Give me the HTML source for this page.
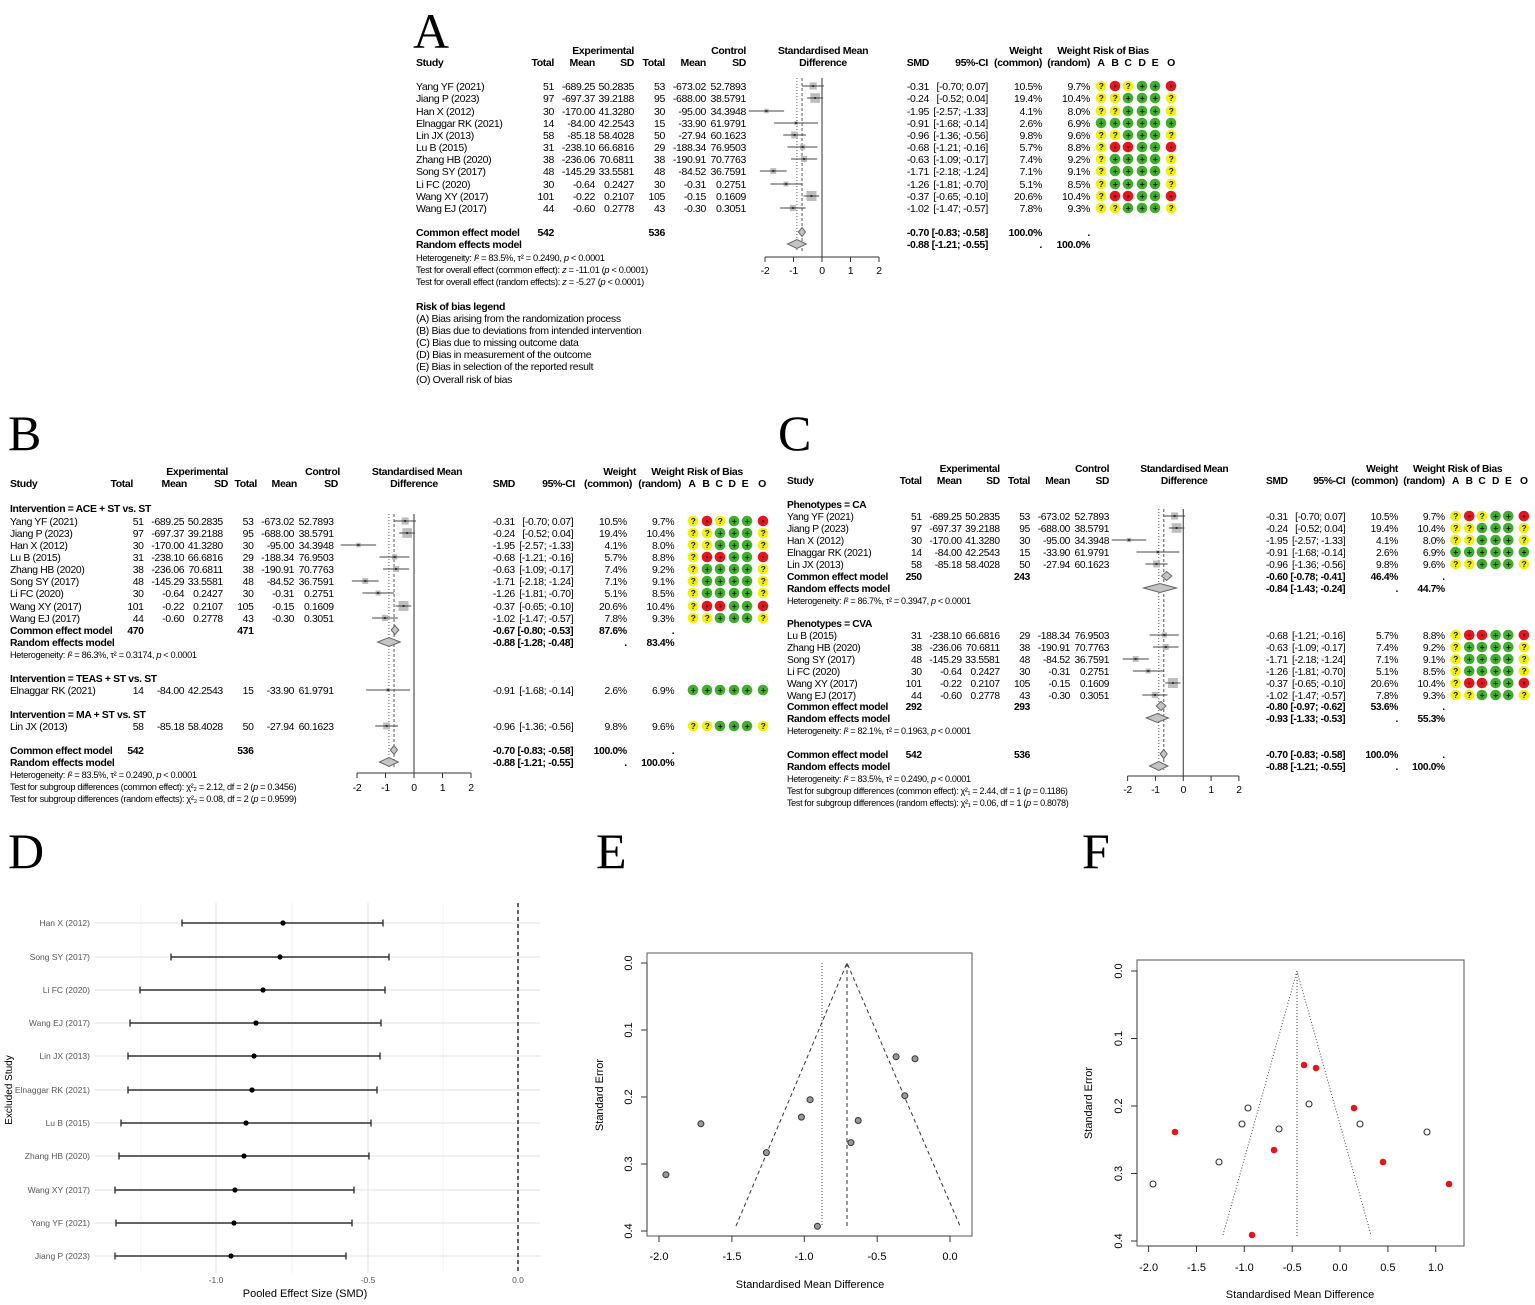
<!DOCTYPE html>
<html><head><meta charset="utf-8"><style>
body{margin:0;background:#fff}
svg{display:block;font-family:"Liberation Sans",Arial,sans-serif;font-size:10.5px;letter-spacing:-0.35px;white-space:pre;fill:#000}
.r{text-anchor:end}.c{text-anchor:middle}.b{font-weight:bold}.s{font-size:9.3px}
.L{font-family:"Liberation Serif",serif;font-size:50px;letter-spacing:0}
.g{fill:#555}
</style></head><body>
<svg id="svg" width="1535" height="1305" viewBox="0 0 1535 1305" xmlns="http://www.w3.org/2000/svg">
<rect width="1535" height="1305" fill="#fff"/>
<text class="L" x="413" y="48">A</text>
<text class="L" x="8" y="450">B</text>
<text class="L" x="778" y="450">C</text>
<text class="L" x="8" y="868">D</text>
<text class="L" x="596" y="868">E</text>
<text class="L" x="1082" y="868">F</text>

<!-- ===== Panel A ===== -->
<g transform="translate(416,0)">
<text class="b r" y="54"><tspan x="218">Experimental</tspan><tspan x="330">Control</tspan><tspan x="626">Weight</tspan><tspan x="674">Weight</tspan></text>
<text class="b c" x="407" y="54">Standardised Mean</text><text class="b" x="677" y="54">Risk of Bias</text>
<text class="b" x="0" y="66">Study</text>
<text class="b r" y="66"><tspan x="138">Total</tspan><tspan x="179">Mean</tspan><tspan x="218">SD</tspan><tspan x="249">Total</tspan><tspan x="290">Mean</tspan><tspan x="330">SD</tspan><tspan x="513">SMD</tspan><tspan x="572">95%-CI</tspan><tspan x="626">(common)</tspan><tspan x="674">(random)</tspan></text>
<text class="b c" x="407" y="66">Difference</text>
<text class="b c" y="66"><tspan x="685">A</tspan><tspan x="699">B</tspan><tspan x="712">C</tspan><tspan x="726">D</tspan><tspan x="739">E</tspan><tspan x="755">O</tspan></text>
<text x="0" y="90">Yang YF (2021)</text><text class="r" y="90"><tspan x="138">51</tspan><tspan x="179">-689.25</tspan><tspan x="218">50.2835</tspan><tspan x="249">53</tspan><tspan x="290">-673.02</tspan><tspan x="330">52.7893</tspan><tspan x="513">-0.31</tspan><tspan x="572">[-0.70;  0.07]</tspan><tspan x="626">10.5%</tspan><tspan x="674">9.7%</tspan></text>
<text x="0" y="102">Jiang P (2023)</text><text class="r" y="102"><tspan x="138">97</tspan><tspan x="179">-697.37</tspan><tspan x="218">39.2188</tspan><tspan x="249">95</tspan><tspan x="290">-688.00</tspan><tspan x="330">38.5791</tspan><tspan x="513">-0.24</tspan><tspan x="572">[-0.52;  0.04]</tspan><tspan x="626">19.4%</tspan><tspan x="674">10.4%</tspan></text>
<text x="0" y="115">Han X (2012)</text><text class="r" y="115"><tspan x="138">30</tspan><tspan x="179">-170.00</tspan><tspan x="218">41.3280</tspan><tspan x="249">30</tspan><tspan x="290">-95.00</tspan><tspan x="330">34.3948</tspan><tspan x="513">-1.95</tspan><tspan x="572">[-2.57; -1.33]</tspan><tspan x="626">4.1%</tspan><tspan x="674">8.0%</tspan></text>
<text x="0" y="127">Elnaggar RK (2021)</text><text class="r" y="127"><tspan x="138">14</tspan><tspan x="179">-84.00</tspan><tspan x="218">42.2543</tspan><tspan x="249">15</tspan><tspan x="290">-33.90</tspan><tspan x="330">61.9791</tspan><tspan x="513">-0.91</tspan><tspan x="572">[-1.68; -0.14]</tspan><tspan x="626">2.6%</tspan><tspan x="674">6.9%</tspan></text>
<text x="0" y="139">Lin JX (2013)</text><text class="r" y="139"><tspan x="138">58</tspan><tspan x="179">-85.18</tspan><tspan x="218">58.4028</tspan><tspan x="249">50</tspan><tspan x="290">-27.94</tspan><tspan x="330">60.1623</tspan><tspan x="513">-0.96</tspan><tspan x="572">[-1.36; -0.56]</tspan><tspan x="626">9.8%</tspan><tspan x="674">9.6%</tspan></text>
<text x="0" y="151">Lu B (2015)</text><text class="r" y="151"><tspan x="138">31</tspan><tspan x="179">-238.10</tspan><tspan x="218">66.6816</tspan><tspan x="249">29</tspan><tspan x="290">-188.34</tspan><tspan x="330">76.9503</tspan><tspan x="513">-0.68</tspan><tspan x="572">[-1.21; -0.16]</tspan><tspan x="626">5.7%</tspan><tspan x="674">8.8%</tspan></text>
<text x="0" y="163">Zhang HB (2020)</text><text class="r" y="163"><tspan x="138">38</tspan><tspan x="179">-236.06</tspan><tspan x="218">70.6811</tspan><tspan x="249">38</tspan><tspan x="290">-190.91</tspan><tspan x="330">70.7763</tspan><tspan x="513">-0.63</tspan><tspan x="572">[-1.09; -0.17]</tspan><tspan x="626">7.4%</tspan><tspan x="674">9.2%</tspan></text>
<text x="0" y="175">Song SY (2017)</text><text class="r" y="175"><tspan x="138">48</tspan><tspan x="179">-145.29</tspan><tspan x="218">33.5581</tspan><tspan x="249">48</tspan><tspan x="290">-84.52</tspan><tspan x="330">36.7591</tspan><tspan x="513">-1.71</tspan><tspan x="572">[-2.18; -1.24]</tspan><tspan x="626">7.1%</tspan><tspan x="674">9.1%</tspan></text>
<text x="0" y="188">Li FC (2020)</text><text class="r" y="188"><tspan x="138">30</tspan><tspan x="179">-0.64</tspan><tspan x="218">0.2427</tspan><tspan x="249">30</tspan><tspan x="290">-0.31</tspan><tspan x="330">0.2751</tspan><tspan x="513">-1.26</tspan><tspan x="572">[-1.81; -0.70]</tspan><tspan x="626">5.1%</tspan><tspan x="674">8.5%</tspan></text>
<text x="0" y="200">Wang XY (2017)</text><text class="r" y="200"><tspan x="138">101</tspan><tspan x="179">-0.22</tspan><tspan x="218">0.2107</tspan><tspan x="249">105</tspan><tspan x="290">-0.15</tspan><tspan x="330">0.1609</tspan><tspan x="513">-0.37</tspan><tspan x="572">[-0.65; -0.10]</tspan><tspan x="626">20.6%</tspan><tspan x="674">10.4%</tspan></text>
<text x="0" y="212">Wang EJ (2017)</text><text class="r" y="212"><tspan x="138">44</tspan><tspan x="179">-0.60</tspan><tspan x="218">0.2778</tspan><tspan x="249">43</tspan><tspan x="290">-0.30</tspan><tspan x="330">0.3051</tspan><tspan x="513">-1.02</tspan><tspan x="572">[-1.47; -0.57]</tspan><tspan x="626">7.8%</tspan><tspan x="674">9.3%</tspan></text>
<text class="b" x="0" y="236">Common effect model</text><text class="b r" y="236"><tspan x="138">542</tspan><tspan x="249">536</tspan><tspan x="513">-0.70</tspan><tspan x="572">[-0.83; -0.58]</tspan><tspan x="626">100.0%</tspan><tspan x="674">.</tspan></text>
<text class="b" x="0" y="248">Random effects model</text><text class="b r" y="248"><tspan x="513">-0.88</tspan><tspan x="572">[-1.21; -0.55]</tspan><tspan x="626">.</tspan><tspan x="674">100.0%</tspan></text>
<text class="s" x="0" y="261">Heterogeneity: <tspan font-style="italic">I</tspan>² = 83.5%, τ² = 0.2490, <tspan font-style="italic">p</tspan> &lt; 0.0001</text>
<text class="s" x="0" y="273">Test for overall effect (common effect): <tspan font-style="italic">z</tspan> = -11.01 (<tspan font-style="italic">p</tspan> &lt; 0.0001)</text>
<text class="s" x="0" y="285">Test for overall effect (random effects): <tspan font-style="italic">z</tspan> = -5.27 (<tspan font-style="italic">p</tspan> &lt; 0.0001)</text>
<text class="c" y="274"><tspan x="349">-2</tspan><tspan x="377.5">-1</tspan><tspan x="406">0</tspan><tspan x="434.5">1</tspan><tspan x="463">2</tspan></text>
<text class="b" x="0" y="310">Risk of bias legend</text>
<text x="0" y="322">(A) Bias arising from the randomization process</text>
<text x="0" y="334">(B) Bias due to deviations from intended intervention</text>
<text x="0" y="346">(C) Bias due to missing outcome data</text>
<text x="0" y="358">(D) Bias in measurement of the outcome</text>
<text x="0" y="370">(E) Bias in selection of the reported result</text>
<text x="0" y="383">(O) Overall risk of bias</text>
</g>

<!-- ===== Panel B ===== -->
<g transform="translate(10,0)">
<text class="b r" y="475"><tspan x="218">Experimental</tspan><tspan x="330">Control</tspan><tspan x="626">Weight</tspan><tspan x="674">Weight</tspan></text>
<text class="b c" x="407" y="475">Standardised Mean</text><text class="b" x="677" y="475">Risk of Bias</text>
<text class="b" x="0" y="487">Study</text>
<text class="b r" y="487"><tspan x="123">Total</tspan><tspan x="177">Mean</tspan><tspan x="218">SD</tspan><tspan x="247">Total</tspan><tspan x="287">Mean</tspan><tspan x="328">SD</tspan><tspan x="505">SMD</tspan><tspan x="565">95%-CI</tspan><tspan x="622">(common)</tspan><tspan x="671">(random)</tspan></text>
<text class="b c" x="404" y="487">Difference</text>
<text class="b c" y="487"><tspan x="682">A</tspan><tspan x="696">B</tspan><tspan x="709">C</tspan><tspan x="722">D</tspan><tspan x="735">E</tspan><tspan x="752">O</tspan></text>
<g transform="translate(-3,0) scale(0.99,1)">
<text class="b" x="3" y="512">Intervention = ACE + ST vs. ST</text>
<text x="3" y="525">Yang YF (2021)</text><text class="r" y="525"><tspan x="138">51</tspan><tspan x="179">-689.25</tspan><tspan x="218">50.2835</tspan><tspan x="249">53</tspan><tspan x="290">-673.02</tspan><tspan x="330">52.7893</tspan><tspan x="513">-0.31</tspan><tspan x="572">[-0.70;  0.07]</tspan><tspan x="626">10.5%</tspan><tspan x="674">9.7%</tspan></text>
<text x="3" y="537">Jiang P (2023)</text><text class="r" y="537"><tspan x="138">97</tspan><tspan x="179">-697.37</tspan><tspan x="218">39.2188</tspan><tspan x="249">95</tspan><tspan x="290">-688.00</tspan><tspan x="330">38.5791</tspan><tspan x="513">-0.24</tspan><tspan x="572">[-0.52;  0.04]</tspan><tspan x="626">19.4%</tspan><tspan x="674">10.4%</tspan></text>
<text x="3" y="549">Han X (2012)</text><text class="r" y="549"><tspan x="138">30</tspan><tspan x="179">-170.00</tspan><tspan x="218">41.3280</tspan><tspan x="249">30</tspan><tspan x="290">-95.00</tspan><tspan x="330">34.3948</tspan><tspan x="513">-1.95</tspan><tspan x="572">[-2.57; -1.33]</tspan><tspan x="626">4.1%</tspan><tspan x="674">8.0%</tspan></text>
<text x="3" y="561">Lu B (2015)</text><text class="r" y="561"><tspan x="138">31</tspan><tspan x="179">-238.10</tspan><tspan x="218">66.6816</tspan><tspan x="249">29</tspan><tspan x="290">-188.34</tspan><tspan x="330">76.9503</tspan><tspan x="513">-0.68</tspan><tspan x="572">[-1.21; -0.16]</tspan><tspan x="626">5.7%</tspan><tspan x="674">8.8%</tspan></text>
<text x="3" y="573">Zhang HB (2020)</text><text class="r" y="573"><tspan x="138">38</tspan><tspan x="179">-236.06</tspan><tspan x="218">70.6811</tspan><tspan x="249">38</tspan><tspan x="290">-190.91</tspan><tspan x="330">70.7763</tspan><tspan x="513">-0.63</tspan><tspan x="572">[-1.09; -0.17]</tspan><tspan x="626">7.4%</tspan><tspan x="674">9.2%</tspan></text>
<text x="3" y="585">Song SY (2017)</text><text class="r" y="585"><tspan x="138">48</tspan><tspan x="179">-145.29</tspan><tspan x="218">33.5581</tspan><tspan x="249">48</tspan><tspan x="290">-84.52</tspan><tspan x="330">36.7591</tspan><tspan x="513">-1.71</tspan><tspan x="572">[-2.18; -1.24]</tspan><tspan x="626">7.1%</tspan><tspan x="674">9.1%</tspan></text>
<text x="3" y="597">Li FC (2020)</text><text class="r" y="597"><tspan x="138">30</tspan><tspan x="179">-0.64</tspan><tspan x="218">0.2427</tspan><tspan x="249">30</tspan><tspan x="290">-0.31</tspan><tspan x="330">0.2751</tspan><tspan x="513">-1.26</tspan><tspan x="572">[-1.81; -0.70]</tspan><tspan x="626">5.1%</tspan><tspan x="674">8.5%</tspan></text>
<text x="3" y="610">Wang XY (2017)</text><text class="r" y="610"><tspan x="138">101</tspan><tspan x="179">-0.22</tspan><tspan x="218">0.2107</tspan><tspan x="249">105</tspan><tspan x="290">-0.15</tspan><tspan x="330">0.1609</tspan><tspan x="513">-0.37</tspan><tspan x="572">[-0.65; -0.10]</tspan><tspan x="626">20.6%</tspan><tspan x="674">10.4%</tspan></text>
<text x="3" y="622">Wang EJ (2017)</text><text class="r" y="622"><tspan x="138">44</tspan><tspan x="179">-0.60</tspan><tspan x="218">0.2778</tspan><tspan x="249">43</tspan><tspan x="290">-0.30</tspan><tspan x="330">0.3051</tspan><tspan x="513">-1.02</tspan><tspan x="572">[-1.47; -0.57]</tspan><tspan x="626">7.8%</tspan><tspan x="674">9.3%</tspan></text>
<text class="b" x="3" y="634">Common effect model</text><text class="b r" y="634"><tspan x="138">470</tspan><tspan x="249">471</tspan><tspan x="513">-0.67</tspan><tspan x="572">[-0.80; -0.53]</tspan><tspan x="626">87.6%</tspan><tspan x="674">.</tspan></text>
<text class="b" x="3" y="646">Random effects model</text><text class="b r" y="646"><tspan x="513">-0.88</tspan><tspan x="572">[-1.28; -0.48]</tspan><tspan x="626">.</tspan><tspan x="674">83.4%</tspan></text>
<text class="s" x="3" y="658">Heterogeneity: <tspan font-style="italic">I</tspan>² = 86.3%, τ² = 0.3174, <tspan font-style="italic">p</tspan> &lt; 0.0001</text>
<text class="b" x="3" y="682">Intervention = TEAS + ST vs. ST</text>
<text x="3" y="694">Elnaggar RK (2021)</text><text class="r" y="694"><tspan x="138">14</tspan><tspan x="179">-84.00</tspan><tspan x="218">42.2543</tspan><tspan x="249">15</tspan><tspan x="290">-33.90</tspan><tspan x="330">61.9791</tspan><tspan x="513">-0.91</tspan><tspan x="572">[-1.68; -0.14]</tspan><tspan x="626">2.6%</tspan><tspan x="674">6.9%</tspan></text>
<text class="b" x="3" y="718">Intervention = MA + ST vs. ST</text>
<text x="3" y="730">Lin JX (2013)</text><text class="r" y="730"><tspan x="138">58</tspan><tspan x="179">-85.18</tspan><tspan x="218">58.4028</tspan><tspan x="249">50</tspan><tspan x="290">-27.94</tspan><tspan x="330">60.1623</tspan><tspan x="513">-0.96</tspan><tspan x="572">[-1.36; -0.56]</tspan><tspan x="626">9.8%</tspan><tspan x="674">9.6%</tspan></text>
<text class="b" x="3" y="754">Common effect model</text><text class="b r" y="754"><tspan x="138">542</tspan><tspan x="249">536</tspan><tspan x="513">-0.70</tspan><tspan x="572">[-0.83; -0.58]</tspan><tspan x="626">100.0%</tspan><tspan x="674">.</tspan></text>
<text class="b" x="3" y="766">Random effects model</text><text class="b r" y="766"><tspan x="513">-0.88</tspan><tspan x="572">[-1.21; -0.55]</tspan><tspan x="626">.</tspan><tspan x="674">100.0%</tspan></text>
<text class="s" x="3" y="778">Heterogeneity: <tspan font-style="italic">I</tspan>² = 83.5%, τ² = 0.2490, <tspan font-style="italic">p</tspan> &lt; 0.0001</text>
<text class="s" x="3" y="790">Test for subgroup differences (common effect): χ²₂ = 2.12, df = 2 (<tspan font-style="italic">p</tspan> = 0.3456)</text>
<text class="s" x="3" y="802">Test for subgroup differences (random effects): χ²₂ = 0.08, df = 2 (<tspan font-style="italic">p</tspan> = 0.9599)</text>
</g>
<text class="c" y="791"><tspan x="347">-2</tspan><tspan x="375.5">-1</tspan><tspan x="404">0</tspan><tspan x="432.5">1</tspan><tspan x="461">2</tspan></text>
</g>

<!-- ===== Panel C ===== -->
<g transform="translate(787,0) scale(0.976,1)">
<text class="b r" y="472"><tspan x="218">Experimental</tspan><tspan x="330">Control</tspan><tspan x="626">Weight</tspan><tspan x="674">Weight</tspan></text>
<text class="b c" x="407" y="472">Standardised Mean</text><text class="b" x="677" y="472">Risk of Bias</text>
<text class="b" x="0" y="484">Study</text>
<text class="b r" y="484"><tspan x="138">Total</tspan><tspan x="179">Mean</tspan><tspan x="218">SD</tspan><tspan x="249">Total</tspan><tspan x="290">Mean</tspan><tspan x="330">SD</tspan><tspan x="513">SMD</tspan><tspan x="572">95%-CI</tspan><tspan x="626">(common)</tspan><tspan x="674">(random)</tspan></text>
<text class="b c" x="407" y="484">Difference</text>
<text class="b c" y="484"><tspan x="685">A</tspan><tspan x="699">B</tspan><tspan x="712">C</tspan><tspan x="726">D</tspan><tspan x="739">E</tspan><tspan x="755">O</tspan></text>
<text class="b" x="0" y="508">Phenotypes = CA</text>
<text x="0" y="520">Yang YF (2021)</text><text class="r" y="520"><tspan x="138">51</tspan><tspan x="179">-689.25</tspan><tspan x="218">50.2835</tspan><tspan x="249">53</tspan><tspan x="290">-673.02</tspan><tspan x="330">52.7893</tspan><tspan x="513">-0.31</tspan><tspan x="572">[-0.70;  0.07]</tspan><tspan x="626">10.5%</tspan><tspan x="674">9.7%</tspan></text>
<text x="0" y="532">Jiang P (2023)</text><text class="r" y="532"><tspan x="138">97</tspan><tspan x="179">-697.37</tspan><tspan x="218">39.2188</tspan><tspan x="249">95</tspan><tspan x="290">-688.00</tspan><tspan x="330">38.5791</tspan><tspan x="513">-0.24</tspan><tspan x="572">[-0.52;  0.04]</tspan><tspan x="626">19.4%</tspan><tspan x="674">10.4%</tspan></text>
<text x="0" y="544">Han X (2012)</text><text class="r" y="544"><tspan x="138">30</tspan><tspan x="179">-170.00</tspan><tspan x="218">41.3280</tspan><tspan x="249">30</tspan><tspan x="290">-95.00</tspan><tspan x="330">34.3948</tspan><tspan x="513">-1.95</tspan><tspan x="572">[-2.57; -1.33]</tspan><tspan x="626">4.1%</tspan><tspan x="674">8.0%</tspan></text>
<text x="0" y="556">Elnaggar RK (2021)</text><text class="r" y="556"><tspan x="138">14</tspan><tspan x="179">-84.00</tspan><tspan x="218">42.2543</tspan><tspan x="249">15</tspan><tspan x="290">-33.90</tspan><tspan x="330">61.9791</tspan><tspan x="513">-0.91</tspan><tspan x="572">[-1.68; -0.14]</tspan><tspan x="626">2.6%</tspan><tspan x="674">6.9%</tspan></text>
<text x="0" y="568">Lin JX (2013)</text><text class="r" y="568"><tspan x="138">58</tspan><tspan x="179">-85.18</tspan><tspan x="218">58.4028</tspan><tspan x="249">50</tspan><tspan x="290">-27.94</tspan><tspan x="330">60.1623</tspan><tspan x="513">-0.96</tspan><tspan x="572">[-1.36; -0.56]</tspan><tspan x="626">9.8%</tspan><tspan x="674">9.6%</tspan></text>
<text class="b" x="0" y="580">Common effect model</text><text class="b r" y="580"><tspan x="138">250</tspan><tspan x="249">243</tspan><tspan x="513">-0.60</tspan><tspan x="572">[-0.78; -0.41]</tspan><tspan x="626">46.4%</tspan><tspan x="674">.</tspan></text>
<text class="b" x="0" y="592">Random effects model</text><text class="b r" y="592"><tspan x="513">-0.84</tspan><tspan x="572">[-1.43; -0.24]</tspan><tspan x="626">.</tspan><tspan x="674">44.7%</tspan></text>
<text class="s" x="0" y="604">Heterogeneity: <tspan font-style="italic">I</tspan>² = 86.7%, τ² = 0.3947, <tspan font-style="italic">p</tspan> &lt; 0.0001</text>
<text class="b" x="0" y="627">Phenotypes = CVA</text>
<text x="0" y="639">Lu B (2015)</text><text class="r" y="639"><tspan x="138">31</tspan><tspan x="179">-238.10</tspan><tspan x="218">66.6816</tspan><tspan x="249">29</tspan><tspan x="290">-188.34</tspan><tspan x="330">76.9503</tspan><tspan x="513">-0.68</tspan><tspan x="572">[-1.21; -0.16]</tspan><tspan x="626">5.7%</tspan><tspan x="674">8.8%</tspan></text>
<text x="0" y="651">Zhang HB (2020)</text><text class="r" y="651"><tspan x="138">38</tspan><tspan x="179">-236.06</tspan><tspan x="218">70.6811</tspan><tspan x="249">38</tspan><tspan x="290">-190.91</tspan><tspan x="330">70.7763</tspan><tspan x="513">-0.63</tspan><tspan x="572">[-1.09; -0.17]</tspan><tspan x="626">7.4%</tspan><tspan x="674">9.2%</tspan></text>
<text x="0" y="663">Song SY (2017)</text><text class="r" y="663"><tspan x="138">48</tspan><tspan x="179">-145.29</tspan><tspan x="218">33.5581</tspan><tspan x="249">48</tspan><tspan x="290">-84.52</tspan><tspan x="330">36.7591</tspan><tspan x="513">-1.71</tspan><tspan x="572">[-2.18; -1.24]</tspan><tspan x="626">7.1%</tspan><tspan x="674">9.1%</tspan></text>
<text x="0" y="675">Li FC (2020)</text><text class="r" y="675"><tspan x="138">30</tspan><tspan x="179">-0.64</tspan><tspan x="218">0.2427</tspan><tspan x="249">30</tspan><tspan x="290">-0.31</tspan><tspan x="330">0.2751</tspan><tspan x="513">-1.26</tspan><tspan x="572">[-1.81; -0.70]</tspan><tspan x="626">5.1%</tspan><tspan x="674">8.5%</tspan></text>
<text x="0" y="687">Wang XY (2017)</text><text class="r" y="687"><tspan x="138">101</tspan><tspan x="179">-0.22</tspan><tspan x="218">0.2107</tspan><tspan x="249">105</tspan><tspan x="290">-0.15</tspan><tspan x="330">0.1609</tspan><tspan x="513">-0.37</tspan><tspan x="572">[-0.65; -0.10]</tspan><tspan x="626">20.6%</tspan><tspan x="674">10.4%</tspan></text>
<text x="0" y="699">Wang EJ (2017)</text><text class="r" y="699"><tspan x="138">44</tspan><tspan x="179">-0.60</tspan><tspan x="218">0.2778</tspan><tspan x="249">43</tspan><tspan x="290">-0.30</tspan><tspan x="330">0.3051</tspan><tspan x="513">-1.02</tspan><tspan x="572">[-1.47; -0.57]</tspan><tspan x="626">7.8%</tspan><tspan x="674">9.3%</tspan></text>
<text class="b" x="0" y="710">Common effect model</text><text class="b r" y="710"><tspan x="138">292</tspan><tspan x="249">293</tspan><tspan x="513">-0.80</tspan><tspan x="572">[-0.97; -0.62]</tspan><tspan x="626">53.6%</tspan><tspan x="674">.</tspan></text>
<text class="b" x="0" y="722">Random effects model</text><text class="b r" y="722"><tspan x="513">-0.93</tspan><tspan x="572">[-1.33; -0.53]</tspan><tspan x="626">.</tspan><tspan x="674">55.3%</tspan></text>
<text class="s" x="0" y="734">Heterogeneity: <tspan font-style="italic">I</tspan>² = 82.1%, τ² = 0.1963, <tspan font-style="italic">p</tspan> &lt; 0.0001</text>
<text class="b" x="0" y="758">Common effect model</text><text class="b r" y="758"><tspan x="138">542</tspan><tspan x="249">536</tspan><tspan x="513">-0.70</tspan><tspan x="572">[-0.83; -0.58]</tspan><tspan x="626">100.0%</tspan><tspan x="674">.</tspan></text>
<text class="b" x="0" y="770">Random effects model</text><text class="b r" y="770"><tspan x="513">-0.88</tspan><tspan x="572">[-1.21; -0.55]</tspan><tspan x="626">.</tspan><tspan x="674">100.0%</tspan></text>
<text class="s" x="0" y="782">Heterogeneity: <tspan font-style="italic">I</tspan>² = 83.5%, τ² = 0.2490, <tspan font-style="italic">p</tspan> &lt; 0.0001</text>
<text class="s" x="0" y="794">Test for subgroup differences (common effect): χ²₁ = 2.44, df = 1 (<tspan font-style="italic">p</tspan> = 0.1186)</text>
<text class="s" x="0" y="806">Test for subgroup differences (random effects): χ²₁ = 0.06, df = 1 (<tspan font-style="italic">p</tspan> = 0.8078)</text>
<text class="c" y="793"><tspan x="349">-2</tspan><tspan x="377.5">-1</tspan><tspan x="406">0</tspan><tspan x="434.5">1</tspan><tspan x="463">2</tspan></text>
</g>

<!-- ===== Panel D ===== -->
<g id="D">
<g stroke="#f2f2f2" stroke-width="1">
<line x1="141" y1="903" x2="141" y2="1273"/><line x1="292" y1="903" x2="292" y2="1273"/><line x1="443" y1="903" x2="443" y2="1273"/>
</g>
<g stroke="#e6e6e6" stroke-width="1.2">
<line x1="216" y1="903" x2="216" y2="1273"/><line x1="368" y1="903" x2="368" y2="1273"/><line x1="518" y1="903" x2="518" y2="1273"/>
<line x1="95" y1="923" x2="540" y2="923"/><line x1="95" y1="957" x2="540" y2="957"/><line x1="95" y1="990" x2="540" y2="990"/><line x1="95" y1="1023" x2="540" y2="1023"/><line x1="95" y1="1056" x2="540" y2="1056"/><line x1="95" y1="1090" x2="540" y2="1090"/><line x1="95" y1="1123" x2="540" y2="1123"/><line x1="95" y1="1156" x2="540" y2="1156"/><line x1="95" y1="1190" x2="540" y2="1190"/><line x1="95" y1="1223" x2="540" y2="1223"/><line x1="95" y1="1256" x2="540" y2="1256"/>
</g>
<line x1="518" y1="903" x2="518" y2="1273" stroke="#111" stroke-width="1.3" stroke-dasharray="4,3"/>
<g font-size="8.5" class="r" fill="#555" style="letter-spacing:0">
<text x="90" y="926">Han X (2012)</text><text x="90" y="960">Song SY (2017)</text><text x="90" y="993">Li FC (2020)</text><text x="90" y="1026">Wang EJ (2017)</text><text x="90" y="1059">Lin JX (2013)</text><text x="90" y="1093">Elnaggar RK (2021)</text><text x="90" y="1126">Lu B (2015)</text><text x="90" y="1159">Zhang HB (2020)</text><text x="90" y="1193">Wang XY (2017)</text><text x="90" y="1226">Yang YF (2021)</text><text x="90" y="1259">Jiang P (2023)</text>
</g>
<g font-size="8.5" class="c" fill="#555" style="letter-spacing:0"><text x="216" y="1283">-1.0</text><text x="368" y="1283">-0.5</text><text x="518" y="1283">0.0</text></g>
<text x="305" y="1297" class="c" font-size="11" style="letter-spacing:0">Pooled Effect Size (SMD)</text>
<text transform="translate(12,1090) rotate(-90)" class="c" font-size="10" style="letter-spacing:0">Excluded Study</text>
</g>

<!-- ===== Panel E ===== -->
<g font-size="11" style="letter-spacing:0">
<rect x="647" y="953" width="325" height="283" fill="none" stroke="#555"/>
<g stroke="#333"><line x1="659" y1="1236" x2="950" y2="1236"/><line x1="659" y1="1236" x2="659" y2="1242"/><line x1="731.9" y1="1236" x2="731.9" y2="1242"/><line x1="804.3" y1="1236" x2="804.3" y2="1242"/><line x1="877.2" y1="1236" x2="877.2" y2="1242"/><line x1="950" y1="1236" x2="950" y2="1242"/>
<line x1="647" y1="963" x2="647" y2="1231"/><line x1="641" y1="963" x2="647" y2="963"/><line x1="641" y1="1030" x2="647" y2="1030"/><line x1="641" y1="1097" x2="647" y2="1097"/><line x1="641" y1="1164" x2="647" y2="1164"/><line x1="641" y1="1231" x2="647" y2="1231"/></g>
<g class="c"><text x="659" y="1260">-2.0</text><text x="732" y="1260">-1.5</text><text x="804" y="1260">-1.0</text><text x="877" y="1260">-0.5</text><text x="950" y="1260">0.0</text></g>
<g class="c"><text transform="translate(632,963) rotate(-90)">0.0</text><text transform="translate(632,1030) rotate(-90)">0.1</text><text transform="translate(632,1097) rotate(-90)">0.2</text><text transform="translate(632,1164) rotate(-90)">0.3</text><text transform="translate(632,1231) rotate(-90)">0.4</text></g>
<text class="c" x="810" y="1288">Standardised Mean Difference</text>
<text class="c" transform="translate(603,1095) rotate(-90)">Standard Error</text>
<polyline points="736,1226 847,963 960,1226" fill="none" stroke="#333" stroke-dasharray="4,3"/>
<line x1="822" y1="963" x2="822" y2="1226" stroke="#444" stroke-dasharray="1,2"/>
<line x1="847" y1="963" x2="847" y2="1226" stroke="#333" stroke-dasharray="4,3"/>
<g fill="#999" stroke="#333">
<circle cx="904.8" cy="1095.7" r="3"/><circle cx="915" cy="1058.8" r="3"/><circle cx="665.9" cy="1174.7" r="3"/><circle cx="817.4" cy="1226.3" r="3"/><circle cx="810.1" cy="1099.7" r="3"/><circle cx="850.9" cy="1142.6" r="3"/><circle cx="858.2" cy="1120.5" r="3"/><circle cx="700.9" cy="1123.8" r="3"/><circle cx="766.4" cy="1152.6" r="3"/><circle cx="896.1" cy="1056.8" r="3"/><circle cx="801.4" cy="1117.1" r="3"/>
</g>
</g>

<!-- ===== Panel F ===== -->
<g font-size="11" style="letter-spacing:0">
<rect x="1137" y="960" width="327" height="286" fill="none" stroke="#555"/>
<g stroke="#333"><line x1="1148.6" y1="1246" x2="1435.7" y2="1246"/><line x1="1148.6" y1="1246" x2="1148.6" y2="1252"/><line x1="1196.5" y1="1246" x2="1196.5" y2="1252"/><line x1="1244.3" y1="1246" x2="1244.3" y2="1252"/><line x1="1292.2" y1="1246" x2="1292.2" y2="1252"/><line x1="1340" y1="1246" x2="1340" y2="1252"/><line x1="1387.9" y1="1246" x2="1387.9" y2="1252"/><line x1="1435.7" y1="1246" x2="1435.7" y2="1252"/>
<line x1="1137" y1="971" x2="1137" y2="1241"/><line x1="1131" y1="971" x2="1137" y2="971"/><line x1="1131" y1="1038.5" x2="1137" y2="1038.5"/><line x1="1131" y1="1106" x2="1137" y2="1106"/><line x1="1131" y1="1173.5" x2="1137" y2="1173.5"/><line x1="1131" y1="1241" x2="1137" y2="1241"/></g>
<g class="c"><text x="1148.6" y="1271">-2.0</text><text x="1196.5" y="1271">-1.5</text><text x="1244.3" y="1271">-1.0</text><text x="1292.2" y="1271">-0.5</text><text x="1340" y="1271">0.0</text><text x="1387.9" y="1271">0.5</text><text x="1435.7" y="1271">1.0</text></g>
<g class="c"><text transform="translate(1122,971) rotate(-90)">0.0</text><text transform="translate(1122,1038.5) rotate(-90)">0.1</text><text transform="translate(1122,1106) rotate(-90)">0.2</text><text transform="translate(1122,1173.5) rotate(-90)">0.3</text><text transform="translate(1122,1241) rotate(-90)">0.4</text></g>
<text class="c" x="1300" y="1298">Standardised Mean Difference</text>
<text class="c" transform="translate(1092,1103) rotate(-90)">Standard Error</text>
<polyline points="1223,1235 1297,971 1371,1235" fill="none" stroke="#444" stroke-dasharray="1,2"/>
<line x1="1297" y1="971" x2="1297" y2="1237" stroke="#444" stroke-dasharray="1,2"/>
<g fill="#fff" stroke="#333" stroke-width="1.1">
<circle cx="1153" cy="1184" r="3"/><circle cx="1219" cy="1162" r="3"/><circle cx="1242" cy="1124" r="3"/><circle cx="1248" cy="1108" r="3"/><circle cx="1279" cy="1129" r="3"/><circle cx="1309" cy="1104" r="3"/><circle cx="1360" cy="1124" r="3"/><circle cx="1427" cy="1132" r="3"/>
</g>
<g fill="#e8141c">
<circle cx="1175" cy="1132" r="3.3"/><circle cx="1252" cy="1235" r="3.3"/><circle cx="1274" cy="1150" r="3.3"/><circle cx="1304" cy="1065" r="3.3"/><circle cx="1316" cy="1068" r="3.3"/><circle cx="1354" cy="1108" r="3.3"/><circle cx="1383" cy="1162" r="3.3"/><circle cx="1449" cy="1184" r="3.3"/>
</g>
</g>
</svg>
<script>
(function(){
var svg=document.getElementById('svg'),NS='http://www.w3.org/2000/svg';
function el(t,a){var e=document.createElementNS(NS,t);for(var k in a)e.setAttribute(k,a[k]);svg.appendChild(e);return e;}
var S={
Yang:[-0.31,-0.70,0.07,10.5,'?-?++-'],Jiang:[-0.24,-0.52,0.04,19.4,'??+++?'],Han:[-1.95,-2.57,-1.33,4.1,'??+++?'],
Eln:[-0.91,-1.68,-0.14,2.6,'++++++'],Lin:[-0.96,-1.36,-0.56,9.8,'??+++?'],Lu:[-0.68,-1.21,-0.16,5.7,'?--++-'],
Zhang:[-0.63,-1.09,-0.17,7.4,'?++++?'],Song:[-1.71,-2.18,-1.24,7.1,'?++++?'],Li:[-1.26,-1.81,-0.70,5.1,'?++++?'],
WXY:[-0.37,-0.65,-0.10,20.6,'?--++-'],WEJ:[-1.02,-1.47,-0.57,7.8,'??+++?']};
function forest(x0,sx,top,axY,rows,diams){
 var X=function(v){return x0+sx*(406+28.5*v);};
 el('line',{x1:X(0),x2:X(0),y1:top,y2:axY,stroke:'#333','stroke-width':1});
 el('line',{x1:X(-0.88),x2:X(-0.88),y1:top,y2:axY-6,stroke:'#555','stroke-dasharray':'1,2'});
 el('line',{x1:X(-0.70),x2:X(-0.70),y1:top,y2:axY-6,stroke:'#555','stroke-dasharray':'3,2'});
 el('line',{x1:X(-2),x2:X(2),y1:axY,y2:axY,stroke:'#333'});
 for(var t=-2;t<=2;t++)el('line',{x1:X(t),x2:X(t),y1:axY,y2:axY+5,stroke:'#333'});
 var rp=[685,699,712,726,739,755],col={'?':'#f2f200','+':'#3fae2a','-':'#e8141c'};
 rows.forEach(function(r){var y=r[0],d=S[r[1]],s=2.2*Math.sqrt(d[3]);
  el('rect',{x:X(d[0])-s/2,y:y-s/2,width:s,height:s,fill:'#bdbdbd'});
  el('line',{x1:X(d[1]),x2:X(d[2]),y1:y,y2:y,stroke:'#444','stroke-width':1});
  el('rect',{x:X(d[0])-1,y:y-1,width:2,height:2,fill:'#333'});
  for(var i=0;i<6;i++){var c=d[4][i],cx=x0+sx*rp[i];
   el('circle',{cx:cx,cy:y,r:5.3,fill:col[c]});
   var tx=el('text',{x:cx,y:y+3.2,'text-anchor':'middle','font-size':'8.5','font-weight':'bold',fill:'#111'});tx.textContent=c==='-'?'•':c;}
 });
 diams.forEach(function(d){var y=d[0];el('polygon',{points:X(d[2])+','+y+' '+X(d[1])+','+(y-4.5)+' '+X(d[3])+','+y+' '+X(d[1])+','+(y+4.5),fill:'#c4c4c4',stroke:'#666'});});
}
var all=['Yang','Jiang','Han','Eln','Lin','Lu','Zhang','Song','Li','WXY','WEJ'],ya=[86,98,111,123,135,147,159,171,184,196,208];
forest(416,1,78,257,all.map(function(k,i){return [ya[i],k];}),[[232,-0.70,-0.83,-0.58],[244,-0.88,-1.21,-0.55]]);
var bk=['Yang','Jiang','Han','Lu','Zhang','Song','Li','WXY','WEJ'],yb=[521,533,545,557,569,581,593,606,618];
var rb=bk.map(function(k,i){return [yb[i],k];});rb.push([690,'Eln']);rb.push([726,'Lin']);
forest(8,1,514,773,rb,[[630,-0.67,-0.80,-0.53],[642,-0.88,-1.28,-0.48],[750,-0.70,-0.83,-0.58],[762,-0.88,-1.21,-0.55]]);
var ck=['Yang','Jiang','Han','Eln','Lin','Lu','Zhang','Song','Li','WXY','WEJ'],yc=[516,528,540,552,564,635,647,659,671,683,695];
forest(787,0.976,509,776,ck.map(function(k,i){return [yc[i],k];}),[[576,-0.60,-0.78,-0.41],[588,-0.84,-1.43,-0.24],[706,-0.80,-0.97,-0.62],[718,-0.93,-1.33,-0.53],[754,-0.70,-0.83,-0.58],[766,-0.88,-1.21,-0.55]]);
var D=[[923,283,182,383],[957,280,171,389],[990,263,140,385],[1023,256,130,381],[1056,254,128,380],[1090,252,128,377],[1123,246,121,371],[1156,244,119,369],[1190,235,115,354],[1223,234,116,352],[1256,231,115,346]];
D.forEach(function(d){var y=d[0];
 el('line',{x1:d[2],x2:d[3],y1:y,y2:y,stroke:'#333','stroke-width':1.4});
 el('line',{x1:d[2],x2:d[2],y1:y-3.5,y2:y+3.5,stroke:'#333','stroke-width':1.4});
 el('line',{x1:d[3],x2:d[3],y1:y-3.5,y2:y+3.5,stroke:'#333','stroke-width':1.4});
 el('circle',{cx:d[1],cy:y,r:2.6,fill:'#000'});});
})();
</script>
</body></html>
